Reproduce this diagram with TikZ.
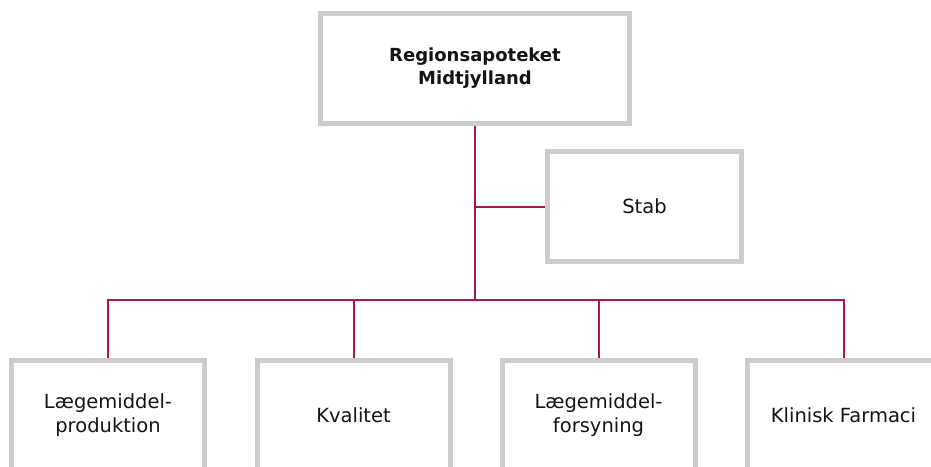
\documentclass[tikz,border=0pt]{standalone}
\usepackage{fontspec}
\setmainfont{DejaVu Sans}
\definecolor{boxgray}{RGB}{204,204,204}
\definecolor{linered}{RGB}{170,22,72}
\definecolor{txt}{RGB}{20,20,20}
\tikzset{
  orgbox/.style={draw=boxgray, line width=5pt, fill=white, minimum height=110pt,
    align=center, text=txt, font=\fontsize{19.5}{24}\selectfont, inner sep=0pt},
  topbox/.style={orgbox, minimum width=309pt, font=\bfseries\fontsize{18}{23}\selectfont},
  unitbox/.style={orgbox, minimum width=193pt},
  conn/.style={draw=linered, line width=2pt}
}
\begin{document}
\begin{tikzpicture}[x=1pt,y=-1pt]
\useasboundingbox (0,0) rectangle (931,466);
\clip (0,0) rectangle (931,466);
\fill[white] (0,0) rectangle (931,466);
\node[topbox] (top) at (475,68.5) {Regionsapoteket\\Midtjylland};
\node[orgbox, minimum width=194pt] (stab) at (644.5,206.5) {Stab};
\node[unitbox] (b1) at (108,415.5) {Lægemiddel-\\produktion};
\node[unitbox] (b2) at (353.5,415.5) {Kvalitet};
\node[unitbox] (b3) at (598.5,415.5) {Lægemiddel-\\forsyning};
\node[unitbox] (b4) at (843.5,415.5) {Klinisk Farmaci};
\coordinate (bus) at (475,300);
\draw[conn] (top.south) -- (bus);
\draw[conn] (stab.west) -- (stab.west -| top.south);
\draw[conn] (b1.north) -- (b1.north |- bus) -- (b4.north |- bus) -- (b4.north);
\draw[conn] (b2.north) -- (b2.north |- bus);
\draw[conn] (b3.north) -- (b3.north |- bus);
\end{tikzpicture}
\end{document}
